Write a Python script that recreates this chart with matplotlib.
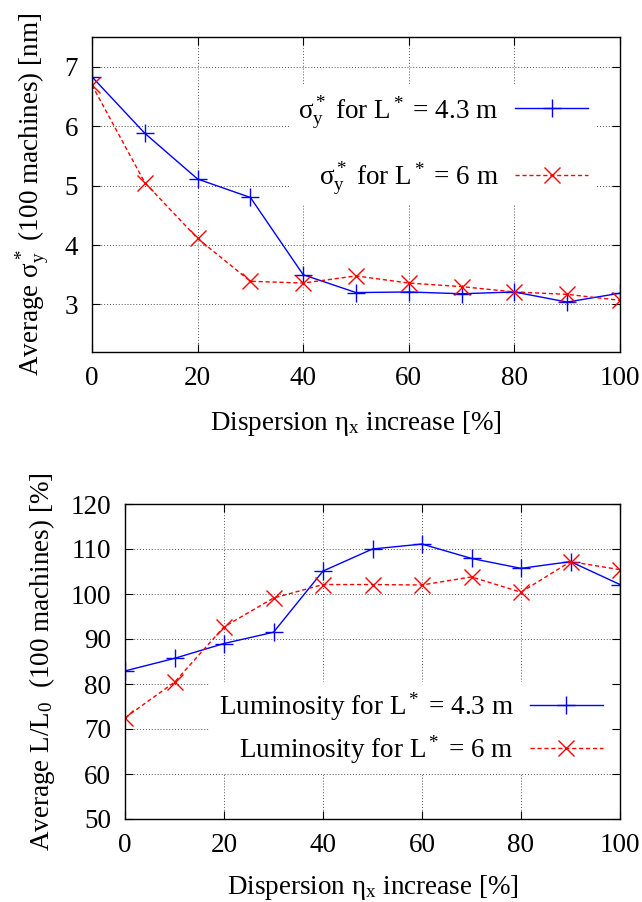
import matplotlib
matplotlib.use('Agg')
import matplotlib.pyplot as plt

plt.rcParams['font.family'] = ['Liberation Serif', 'DejaVu Serif']
plt.rcParams['mathtext.fontset'] = 'custom'
plt.rcParams['mathtext.rm'] = 'Liberation Serif'
plt.rcParams['mathtext.it'] = 'Liberation Serif:italic'
plt.rcParams['font.size'] = 19.5

disp = [0, 10, 20, 30, 40, 50, 60, 70, 80, 90, 100]
sig_43 = [6.83, 5.88, 5.11, 4.80, 3.50, 3.20, 3.21, 3.18, 3.21, 3.04, 3.19]
sig_6 = [6.69, 5.05, 4.11, 3.39, 3.36, 3.48, 3.36, 3.30, 3.21, 3.17, 3.07]
lumi_43 = [82.9, 85.7, 89.0, 91.5, 105.1, 110.0, 111.1, 107.9, 105.7, 107.2, 102.1]
lumi_6 = [72.5, 80.4, 92.7, 99.1, 102.1, 102.1, 102.0, 103.8, 100.4, 107.2, 105.4]

W, H = 642, 902
fig = plt.figure(figsize=(W/100, H/100), dpi=100)

def axes_px(l, t, r, b):
    return fig.add_axes([l/W, 1-b/H, (r-l)/W, (b-t)/H])

def style(ax):
    ax.grid(True, color='#555555', linestyle=(0, (1, 2)), linewidth=0.7)
    ax.set_axisbelow(True)
    ax.tick_params(direction='in', top=True, right=True, length=6, width=0.8, pad=10)
    for s in ax.spines.values():
        s.set_linewidth(1.0)

xlab = r'Dispersion η$_\mathrm{x}$ increase [%]'

# top panel
ax1 = axes_px(92, 37, 620, 352)
ax1.plot(disp, sig_43, color='blue', lw=1.0, marker='+', ms=13, mew=1.0,
         label=r'σ$_\mathrm{y}^*$ for L$^*$ = 4.3 m')
ax1.plot(disp, sig_6, color='red', lw=1.0, ls=(0, (3, 2)), marker='x', ms=12, mew=1.0,
         label=r'σ$_\mathrm{y}^*$ for L$^*$ = 6 m')
ax1.set_xlim(0, 100)
ax1.set_ylim(2.2, 7.5)
ax1.set_xticks([0, 20, 40, 60, 80, 100])
ax1.set_yticks([3, 4, 5, 6, 7])
style(ax1)
ax1.set_xlabel(xlab, labelpad=13)
ax1.set_ylabel(r'Average σ$_\mathrm{y}^*$ (100 machines) [nm]', labelpad=10)
ax1.legend(loc='upper right', bbox_to_anchor=(0.955, 0.845), markerfirst=False,
           frameon=True, fancybox=False, edgecolor='none', facecolor='white',
           framealpha=1, handlelength=2.7, labelspacing=1.1, borderpad=0.3,
           handletextpad=0.6, borderaxespad=0)

# bottom panel
ax2 = axes_px(125, 504, 620, 819)
ax2.plot(disp, lumi_43, color='blue', lw=1.0, marker='+', ms=13, mew=1.0,
         label=r'Luminosity for L$^*$ = 4.3 m')
ax2.plot(disp, lumi_6, color='red', lw=1.0, ls=(0, (3, 2)), marker='x', ms=12, mew=1.0,
         label=r'Luminosity for L$^*$ = 6 m')
ax2.set_xlim(0, 100)
ax2.set_ylim(50, 120)
ax2.set_xticks([0, 20, 40, 60, 80, 100])
ax2.set_yticks(range(50, 121, 10))
style(ax2)
ax2.set_xlabel(xlab, labelpad=11)
ax2.set_ylabel(r'Average L/L$_0$  (100 machines) [%]', labelpad=10)
ax2.legend(loc='upper right', bbox_to_anchor=(0.982, 0.435), markerfirst=False,
           frameon=True, fancybox=False, edgecolor='none', facecolor='white',
           framealpha=1, handlelength=2.7, labelspacing=0.4, borderpad=0.3,
           handletextpad=0.6, borderaxespad=0)

fig.savefig('out.png', dpi=100)
